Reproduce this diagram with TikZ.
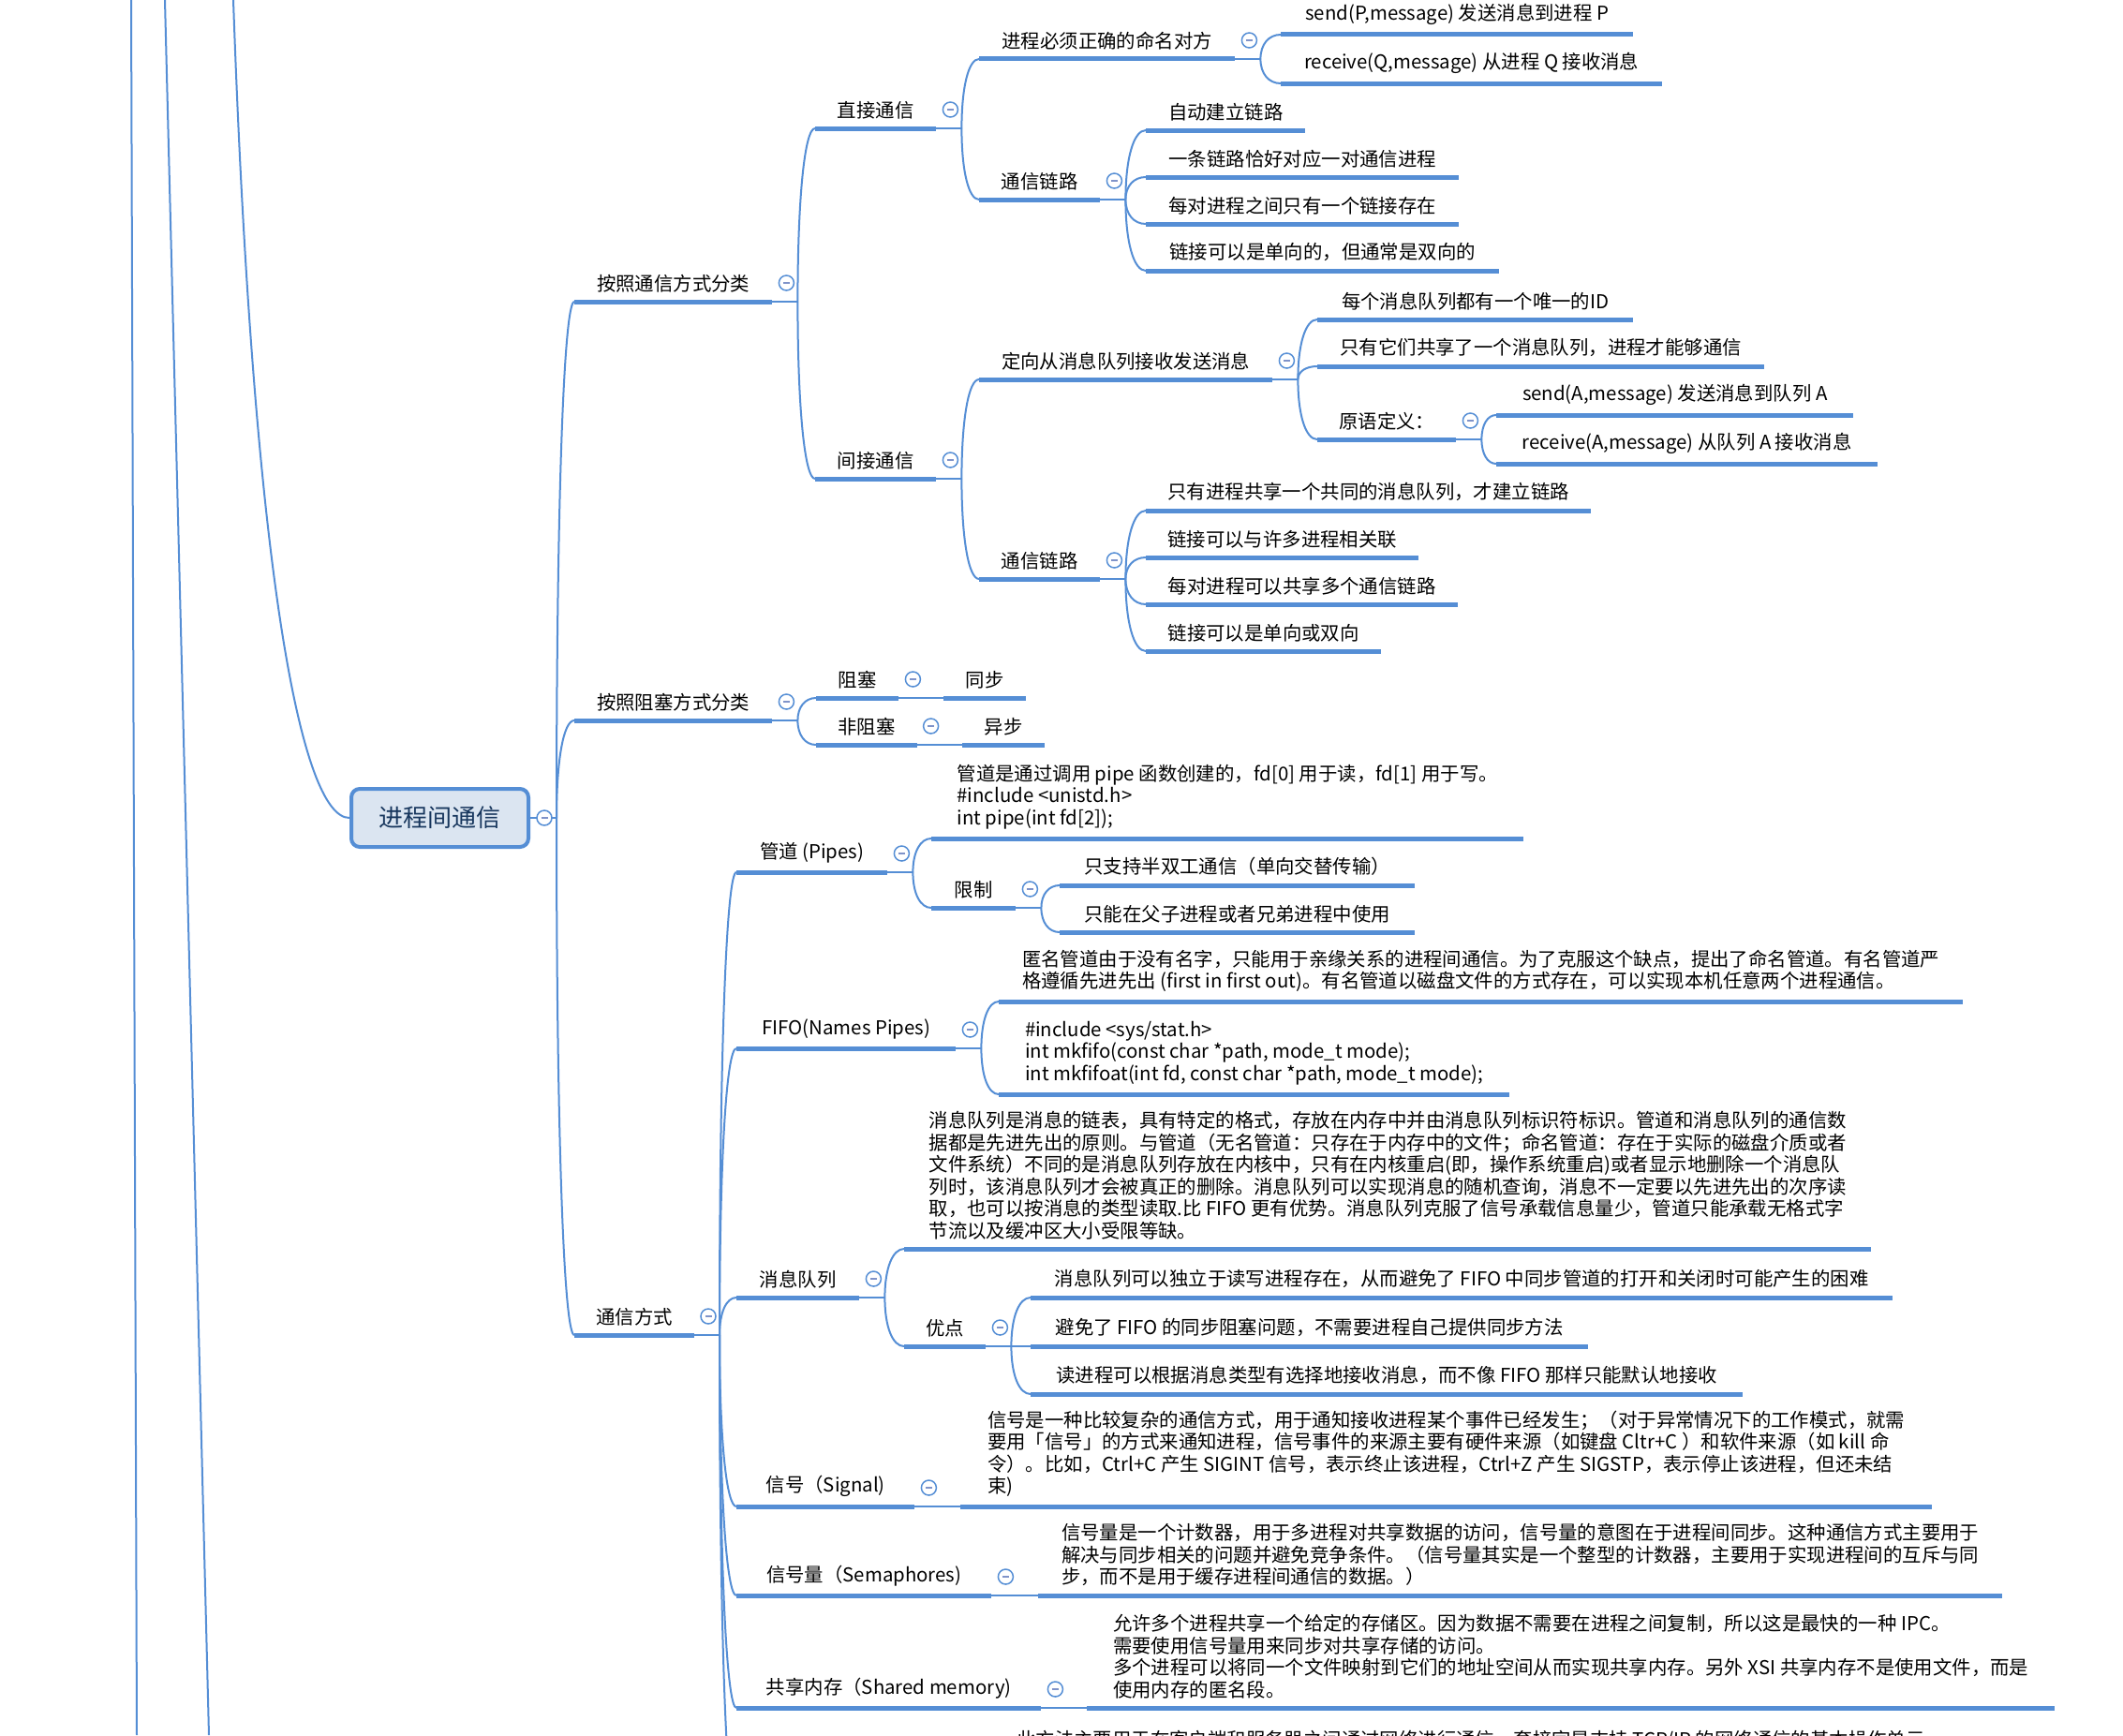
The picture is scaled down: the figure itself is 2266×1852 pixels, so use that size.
\documentclass[tikz,border=0pt]{standalone}
\usepackage{fontspec}
\setmainfont{Noto Sans CJK SC}
\usetikzlibrary{calc}

\definecolor{branch}{HTML}{558ED5}
\definecolor{rootfill}{HTML}{DBE5F1}
\definecolor{roottext}{HTML}{17365D}
\definecolor{minusc}{HTML}{7F93C9}
\newcommand{\foldmark}{\textcolor{minusc}{\rule{7pt}{1.5pt}}}

\tikzset{link/.style={branch,line width=2}}
\tikzset{uline/.style={branch,line width=5}}
\tikzset{topic/.style={anchor=south west,inner xsep=23,inner ysep=10,align=left,font=\fontsize{20.4}{23.5}\selectfont}}
\tikzset{rootbox/.style={draw=branch,fill=rootfill,line width=4,rounded corners=9,minimum width=189,minimum height=62,text=roottext,font=\fontsize{26}{30}\selectfont}}
\tikzset{fold/.style={circle,draw=branch,fill=white,line width=1.5,minimum size=16,inner sep=0}}
\tikzset{branchto/.style={link,to path={.. controls ($(\tikztostart)!0.6!(\tikztostart|-\tikztotarget)$) and ($(\tikztotarget)!0.6!(\tikztostart|-\tikztotarget)$) .. (\tikztotarget)}}}

\begin{document}
\begin{tikzpicture}[x=1pt,y=-1pt]
        % page
        \useasboundingbox (0,0) rectangle (2266,1852);
        \fill[white] (0,0) rectangle (2266,1852);
        \clip (0,0) rectangle (2266,1852);
        % root
        \node[rootbox] (root) at (469.5,873) {进程间通信};
        % branches of the parent above the page
        \coordinate (t1) at (140,0); \coordinate (b1) at (146,1852);
        \coordinate (t2) at (176,0); \coordinate (b2) at (223,1852);
        \coordinate (t3) at (249,0);
        \draw[link] (t1) -- (b1);
        \draw[link] (t2) -- (b2);
        \draw[link] (t3) .. controls (270,600) and (320,873) .. (root.west);
        % first level
        \node[topic,minimum width=211] (A) at (613,322) {按照通信方式分类};
        \node[topic,minimum width=211] (B) at (613,769) {按照阻塞方式分类};
        \node[topic,minimum width=127] (C) at (613,1425) {通信方式};
        % by way of naming
        \node[topic,minimum width=129] (A1) at (870,137) {直接通信};
        \node[topic,minimum width=129] (A2) at (870,511) {间接通信};
        \node[topic,minimum width=273] (A1a) at (1045,63) {进程必须正确的命名对方};
        \node[topic,minimum width=129] (A1b) at (1045,213) {通信链路};
        \node[topic,minimum width=376] (s1) at (1367,37) {send(P,message) 发送消息到进程 P};
        \node[topic,minimum width=407] (s2) at (1367,89) {receive(Q,message) 从进程 Q 接收消息};
        \node[topic,minimum width=170] (l1) at (1223,139) {自动建立链路};
        \node[topic,minimum width=334] (l2) at (1223,189) {一条链路恰好对应一对通信进程};
        \node[topic,minimum width=334] (l3) at (1223,239) {每对进程之间只有一个链接存在};
        \node[topic,minimum width=377] (l4) at (1223,289) {链接可以是单向的，但通常是双向的};
        \node[topic,minimum width=313] (A2a) at (1045,405) {定向从消息队列接收发送消息};
        \node[topic,minimum width=129] (A2b) at (1045,618) {通信链路};
        \node[topic,minimum width=337] (m1) at (1406,341) {每个消息队列都有一个唯一的ID};
        \node[topic,minimum width=477] (m2) at (1406,391) {只有它们共享了一个消息队列，进程才能够通信};
        \node[topic,minimum width=144] (m3) at (1406,469) {原语定义：};
        \node[topic,minimum width=381] (p1) at (1597,443) {send(A,message) 发送消息到队列 A};
        \node[topic,minimum width=407] (p2) at (1597,495) {receive(A,message) 从队列 A 接收消息};
        \node[topic,minimum width=475] (k1) at (1223,545) {只有进程共享一个共同的消息队列，才建立链路};
        \node[topic,minimum width=291] (k2) at (1223,595) {链接可以与许多进程相关联};
        \node[topic,minimum width=333] (k3) at (1223,645) {每对进程可以共享多个通信链路};
        \node[topic,minimum width=251] (k4) at (1223,695) {链接可以是单向或双向};
        % by blocking
        \node[topic,minimum width=88] (B1) at (871,745) {阻塞};
        \node[topic,minimum width=107] (B2) at (871,795) {非阻塞};
        \node[topic,minimum width=88] (B1a) at (1007,745) {同步};
        \node[topic,minimum width=88] (B2a) at (1027,795) {异步};
        % ways of communicating
        \node[topic,minimum width=161] (C1) at (786,931) {管道 (Pipes)};
        \node[topic,minimum width=234] (C2) at (786,1119) {FIFO(Names Pipes)};
        \node[topic,minimum width=131] (C3) at (786,1385) {消息队列};
        \node[topic,minimum width=190] (C4) at (786,1608) {信号（Signal)};
        \node[topic,minimum width=272] (C5) at (786,1703) {信号量（Semaphores)};
        \node[topic,minimum width=325] (C6) at (786,1823) {共享内存（Shared memory)};
        \coordinate (c7) at (786,1940);
        \node[topic,minimum width=632] (C1a) at (994,895) {管道是通过调用 pipe 函数创建的，fd[0] 用于读，fd[1] 用于写。\\\#include <unistd.h>\\int pipe(int fd[2]);};
        \node[topic,minimum width=90] (C1b) at (994,969) {限制};
        \node[topic,minimum width=379] (r1) at (1131,945) {只支持半双工通信（单向交替传输）};
        \node[topic,minimum width=379] (r2) at (1131,995) {只能在父子进程或者兄弟进程中使用};
        \node[topic,minimum width=1029] (C2a) at (1066,1069) {匿名管道由于没有名字，只能用于亲缘关系的进程间通信。为了克服这个缺点，提出了命名管道。有名管道严\\格遵循先进先出 (first in first out)。有名管道以磁盘文件的方式存在，可以实现本机任意两个进程通信。};
        \node[topic,minimum width=545] (C2b) at (1066,1168) {\#include <sys/stat.h>\\int mkfifo(const char *path, mode\_t mode);\\int mkfifoat(int fd, const char *path, mode\_t mode);};
        \node[topic,minimum width=1032] (C3a) at (965,1333) {消息队列是消息的链表，具有特定的格式，存放在内存中并由消息队列标识符标识。管道和消息队列的通信数\\据都是先进先出的原则。与管道（无名管道：只存在于内存中的文件；命名管道：存在于实际的磁盘介质或者\\文件系统）不同的是消息队列存放在内核中，只有在内核重启(即，操作系统重启)或者显示地删除一个消息队\\列时，该消息队列才会被真正的删除。消息队列可以实现消息的随机查询，消息不一定要以先进先出的次序读\\取，也可以按消息的类型读取.比 FIFO 更有优势。消息队列克服了信号承载信息量少，管道只能承载无格式字\\节流以及缓冲区大小受限等缺。};
        \node[topic,minimum width=87] (C3b) at (965,1437) {优点};
        \node[topic,minimum width=920] (v1) at (1100,1385) {消息队列可以独立于读写进程存在，从而避免了 FIFO 中同步管道的打开和关闭时可能产生的困难};
        \node[topic,minimum width=595] (v2) at (1100,1437) {避免了 FIFO 的同步阻塞问题，不需要进程自己提供同步方法};
        \node[topic,minimum width=760] (v3) at (1100,1488) {读进程可以根据消息类型有选择地接收消息，而不像 FIFO 那样只能默认地接收};
        \node[topic,minimum width=1037] (C4a) at (1025,1608) {信号是一种比较复杂的通信方式，用于通知接收进程某个事件已经发生；（对于异常情况下的工作模式，就需\\要用「信号」的方式来通知进程，信号事件的来源主要有硬件来源（如键盘 Cltr+C ）和软件来源（如 kill 命\\令）。比如，Ctrl+C 产生 SIGINT 信号，表示终止该进程，Ctrl+Z 产生 SIGSTP，表示停止该进程，但还未结\\束)};
        \node[topic,minimum width=1029] (C5a) at (1108,1703) {信号量是一个计数器，用于多进程对共享数据的访问，信号量的意图在于进程间同步。这种通信方式主要用于\\解决与同步相关的问题并避免竞争条件。（信号量其实是一个整型的计数器，主要用于实现进程间的互斥与同\\步，而不是用于缓存进程间通信的数据。）};
        \node[topic,minimum width=1033] (C6a) at (1160,1823) {允许多个进程共享一个给定的存储区。因为数据不需要在进程之间复制，所以这是最快的一种 IPC。\\需要使用信号量用来同步对共享存储的访问。\\多个进程可以将同一个文件映射到它们的地址空间从而实现共享内存。另外 XSI 共享内存不是使用文件，而是\\使用内存的匿名段。};
        \node[topic,anchor=base west] (C7a) at (1062,1864) {此方法主要用于在客户端和服务器之间通过网络进行通信。套接字是支持 TCP/IP 的网络通信的基本操作单元};
        % junctions
        \draw[link] (root.east) -- ++(28,0) coordinate (jroot);
        \foreach \n in {A,B,C,A1,A2,A1a,A1b,A2a,A2b,m3,B1,B2,C1,C1b,C2,C3,C3b,C4,C5,C6}
            \draw[link] (\n.south east) -- ++(27,0) coordinate (j\n);
        % connectors
        \foreach \p/\c in {root/A,root/B,root/C,A/A1,A/A2,A1/A1a,A1/A1b,A1a/s1,A1a/s2,A1b/l1,A1b/l2,A1b/l3,A1b/l4,A2/A2a,A2/A2b,A2a/m1,A2a/m2,A2a/m3,m3/p1,m3/p2,A2b/k1,A2b/k2,A2b/k3,A2b/k4,B/B1,B/B2,B1/B1a,B2/B2a,C/C1,C/C2,C/C3,C/C4,C/C5,C/C6,C1/C1a,C1/C1b,C1b/r1,C1b/r2,C2/C2a,C2/C2b,C3/C3a,C3/C3b,C3b/v1,C3b/v2,C3b/v3,C4/C4a,C5/C5a,C6/C6a}
            \draw[branchto] (j\p) to (\c.south west);
        \draw[branchto] (jC) to (c7);
        % underlines
        \foreach \n in {A,B,C,A1,A2,A1a,A1b,s1,s2,l1,l2,l3,l4,A2a,A2b,m1,m2,m3,p1,p2,k1,k2,k3,k4,B1,B2,B1a,B2a,C1,C2,C3,C4,C5,C6,C1a,C1b,r1,r2,C2a,C2b,C3a,C3b,v1,v2,v3,C4a,C5a,C6a}
            \draw[uline] (\n.south west) -- (\n.south east);
        % fold marks
        \node[fold] (froot) at ($(root.east)+(15,0)$) {\foldmark};
        \foreach \n in {A,B,C,A1,A2,A1a,A1b,A2a,A2b,m3,B1,B2,C1,C1b,C2,C3,C3b,C4,C5,C6}
            \node[fold] (f\n) at ($(\n.south east)+(15,-20)$) {\foldmark};
\end{tikzpicture}
\end{document}
